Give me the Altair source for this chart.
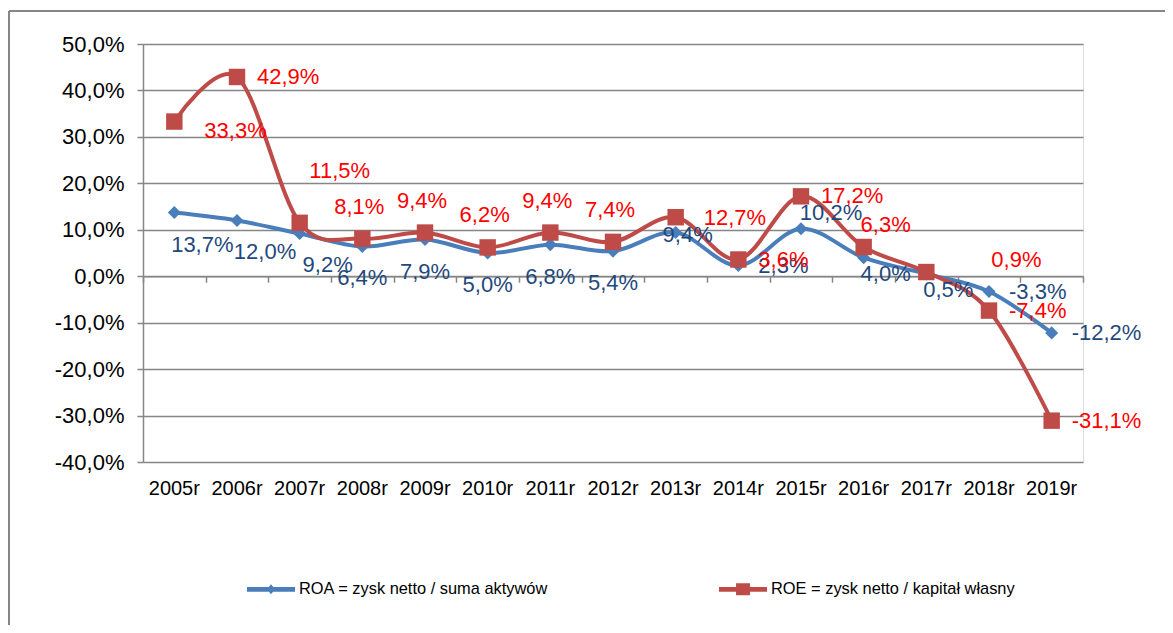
import altair as alt
import pandas as pd

# ---------------- data ----------------
years = ["2005r", "2006r", "2007r", "2008r", "2009r", "2010r", "2011r", "2012r",
         "2013r", "2014r", "2015r", "2016r", "2017r", "2018r", "2019r"]
roa = [13.7, 12.0, 9.2, 6.4, 7.9, 5.0, 6.8, 5.4, 9.4, 2.3, 10.2, 4.0, 0.5, -3.3, -12.2]
roe = [33.3, 42.9, 11.5, 8.1, 9.4, 6.2, 9.4, 7.4, 12.7, 3.6, 17.2, 6.3, 0.9, -7.4, -31.1]
series_names = ["ROA = zysk netto / suma aktywów", "ROE = zysk netto / kapitał własny"]
y_ticks = [-40, -30, -20, -10, 0, 10, 20, 30, 40, 50]


def fmt(v):
    return f"{v:.1f}".replace(".", ",") + "%"


def make_df(vals, name):
    return pd.DataFrame({
        "year": years,
        "idx": list(range(len(years))),
        "series": name,
        "value": vals,
        "label": [fmt(v) for v in vals],
    })


df_roa = make_df(roa, series_names[0])
df_roe = make_df(roe, series_names[1])
df_all = pd.concat([df_roa, df_roe], ignore_index=True)

# ---------------- style ----------------
W, H = 940, 418
PAD_L, PAD_T, PAD_R, PAD_B = 135, 36, 82, 163
Y_MIN, Y_MAX = -40, 50
zero_offset = (0 - Y_MIN) / (Y_MAX - Y_MIN) * H

BLUE = "#4A7EBB"
RED = "#BE4B48"
BLUE_TXT = "#1F497D"
RED_TXT = "#FF0000"
GRAY = "#868686"
FONT = "Liberation Sans"

x_scale = alt.Scale(type="band", domain=years, paddingInner=0, paddingOuter=0)
y_scale = alt.Scale(domain=[Y_MIN, Y_MAX], nice=False, zero=False)

x_label_axis = alt.Axis(orient="bottom", title=None, labelAngle=0, labelFontSize=20,
                        labelFont=FONT, labelColor="#000000", labelPadding=16,
                        domain=False, ticks=False, grid=False)
x_zero_axis = alt.Axis(orient="bottom", offset=-zero_offset, title=None, labels=False,
                       domain=True, domainColor=GRAY, domainWidth=1.5,
                       ticks=True, tickBand="extent", tickSize=6, tickColor=GRAY,
                       tickWidth=1.5, grid=False)
y_axis = alt.Axis(values=y_ticks, title=None, grid=True, gridColor=GRAY, gridWidth=1.5,
                  domain=True, domainColor=GRAY, domainWidth=1.5,
                  ticks=True, tickSize=6, tickColor=GRAY, tickWidth=1.5,
                  labelFontSize=22, labelFont=FONT, labelColor="#000000", labelPadding=13,
                  labelExpr="(datum.value < 0 ? '-' : '') + replace(format(abs(datum.value), '.1f'), '.', ',') + '%'")

x_plain = alt.X("year:N", scale=x_scale, axis=None)
y_enc = alt.Y("value:Q", scale=y_scale, axis=y_axis)

roa_line = alt.Chart(df_roa).mark_line(color=BLUE, strokeWidth=4, interpolate="cardinal").encode(
    x=alt.X("year:N", scale=x_scale, axis=x_label_axis),
    y=y_enc,
)
roa_pts = alt.Chart(df_roa).mark_point(shape="diamond", filled=True, color=BLUE, size=170, opacity=1).encode(
    x=alt.X("year:N", scale=x_scale, axis=x_zero_axis),
    y=y_enc,
)
roe_line = alt.Chart(df_roe).mark_line(color=RED, strokeWidth=4, interpolate="cardinal").encode(
    x=x_plain, y=y_enc,
)
roe_pts = alt.Chart(df_roe).mark_point(shape="square", filled=True, color=RED, size=270, opacity=1).encode(
    x=x_plain, y=y_enc,
)


def labels(df, idxs, color, align, dx, dy):
    return alt.Chart(df).transform_filter(
        alt.FieldOneOfPredicate(field="idx", oneOf=idxs)
    ).mark_text(align=align, baseline="middle", dx=dx, dy=dy, fontSize=22,
                font=FONT, color=color).encode(x=x_plain, y=y_enc, text="label:N")


text_layers = [
    labels(df_roa, [0, 1, 2], BLUE_TXT, "center", 28, 32),
    labels(df_roa, [3, 4, 5, 6, 7], BLUE_TXT, "center", 0, 32),
    labels(df_roa, [11, 12], BLUE_TXT, "center", 22, 16),
    labels(df_roa, [9, 13, 14], BLUE_TXT, "left", 20, 0),
    labels(df_roa, [8], BLUE_TXT, "center", 12, 2),
    labels(df_roa, [10], BLUE_TXT, "center", 30, -16),
    labels(df_roe, [1, 9, 10, 13, 14], RED_TXT, "left", 20, 0),
    labels(df_roe, [8], RED_TXT, "left", 28, 1),
    labels(df_roe, [0], RED_TXT, "left", 30, 9),
    labels(df_roe, [2], RED_TXT, "center", 40, -52),
    labels(df_roe, [3, 4, 5, 6, 7], RED_TXT, "center", -3, -32),
    labels(df_roe, [11], RED_TXT, "center", 22, -22),
    labels(df_roe, [12], RED_TXT, "left", 65, -12),
]

# legend (line with marker symbols)
PATH_ROA = "M-1,-0.1L1,-0.1L1,0.1L-1,0.1Z M0,-0.21L0.17,0L0,0.21L-0.17,0Z"
PATH_ROE = "M-1,-0.1L1,-0.1L1,0.1L-1,0.1Z M-0.29,-0.25L0.29,-0.25L0.29,0.25L-0.29,0.25Z"
leg = alt.Legend(orient="none", legendX=104, legendY=521, direction="horizontal",
                 title=None, symbolSize=2304, symbolStrokeWidth=0, symbolOpacity=1,
                 labelFontSize=16.4, labelFont=FONT, labelColor="#000000", labelOffset=4,
                 labelLimit=500, columnPadding=170, padding=0)
legend_layer = alt.Chart(df_all).transform_filter("false").mark_point(filled=True, opacity=1).encode(
    color=alt.Color("series:N", scale=alt.Scale(domain=series_names, range=[BLUE, RED]), legend=leg),
    shape=alt.Shape("series:N", scale=alt.Scale(domain=series_names, range=[PATH_ROA, PATH_ROE]), legend=leg),
)

# outer frame (top and left edges)
one = pd.DataFrame({"a": [0]})
frame_top = alt.Chart(one).mark_rule(color=GRAY, strokeWidth=2).encode(
    x=alt.value(-134), x2=alt.value(W + PAD_R), y=alt.value(-33))
frame_left = alt.Chart(one).mark_rule(color=GRAY, strokeWidth=2).encode(
    x=alt.value(-134), y=alt.value(-33), y2=alt.value(H + PAD_B))

chart = alt.layer(
    frame_top, frame_left, roa_line, roa_pts, roe_line, roe_pts, *text_layers, legend_layer
).properties(
    width=W, height=H,
    autosize=alt.AutoSizeParams(type="none"),
    padding={"left": PAD_L, "top": PAD_T, "right": PAD_R, "bottom": PAD_B},
).resolve_axis(x="independent").configure_view(stroke="transparent", strokeWidth=0).configure(background="white")

chart.save("out.html", embed_options={"renderer": "svg", "actions": False})
